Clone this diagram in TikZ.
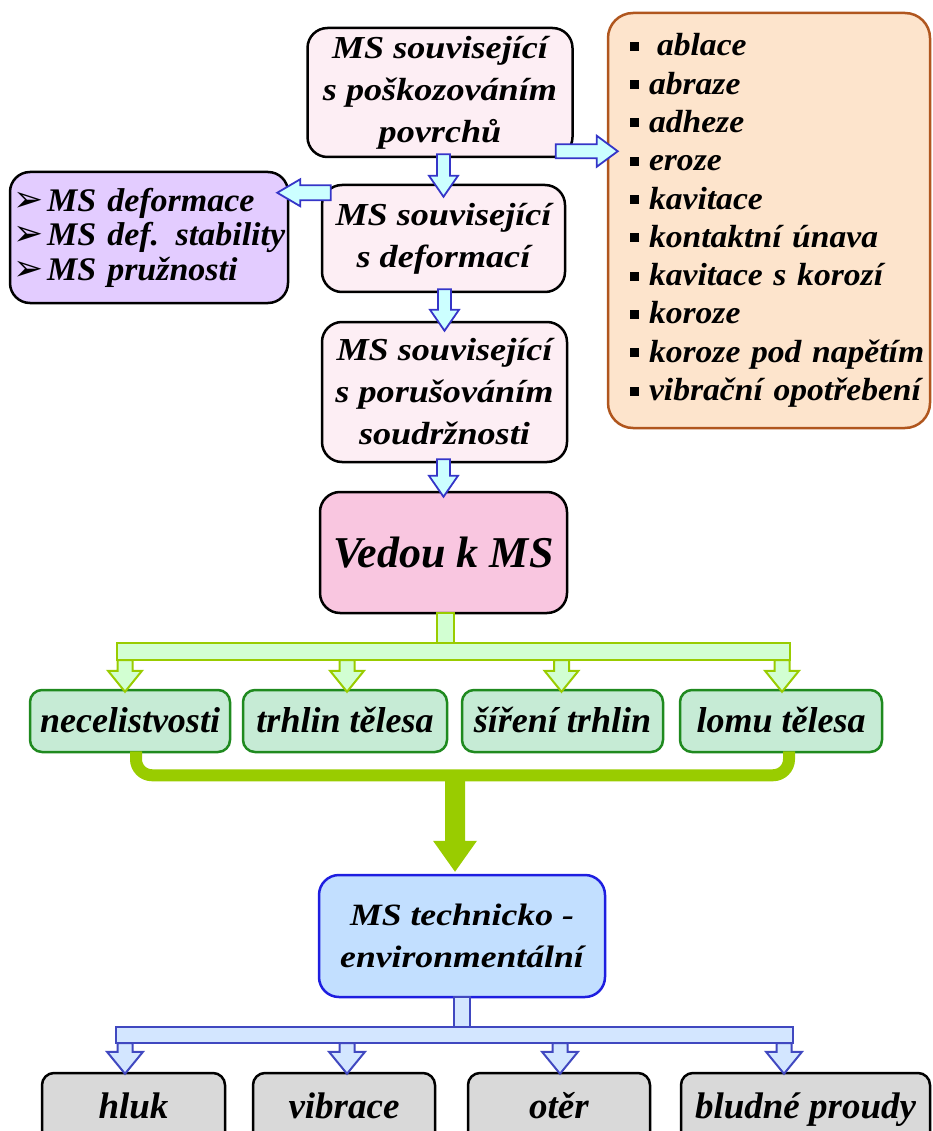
\documentclass[tikz,border=0pt]{standalone}
\usepackage{fontspec}
\setmainfont{Liberation Serif}
\newfontfamily\fTop{Liberation Serif}[FakeStretch=1.13]
\newfontfamily\fSide{Liberation Serif}[FakeStretch=1.03]
\newfontfamily\fList{Liberation Serif}[FakeStretch=1.05]
\newfontfamily\fEnv{Liberation Serif}[FakeStretch=1.15]
\newfontfamily\arrowglyph{DejaVu Sans}
\usetikzlibrary{calc}

\definecolor{palepink}{HTML}{FDEEF4}
\definecolor{hotpink}{HTML}{F9C6E0}
\definecolor{lilac}{HTML}{E3CCFF}
\definecolor{peach}{HTML}{FDE4CC}
\definecolor{rust}{HTML}{B0561E}
\definecolor{mint}{HTML}{C6EBD5}
\definecolor{leaf}{HTML}{1F8A1F}
\definecolor{sky}{HTML}{C2DFFF}
\definecolor{royal}{HTML}{1E1EE0}
\definecolor{ash}{HTML}{D9D9D9}
\definecolor{cyanfill}{HTML}{CCFFFF}
\definecolor{arrowblue}{HTML}{3535C8}
\definecolor{limefill}{HTML}{D2FFD2}
\definecolor{lime}{HTML}{99CC00}
\definecolor{icefill}{HTML}{D3E6FF}
\definecolor{navyline}{HTML}{4048C0}

% vertical block arrow: style, start, tip, half shaft, half head, head length
\newcommand\vblock[6]{%
  \path[#1] let \p1=(#2), \p2=(#3) in
    (\x2-#4,\y1) -- (\x2-#4,\y2+#6) -- (\x2-#5,\y2+#6) -- (\x2,\y2)
    -- (\x2+#5,\y2+#6) -- (\x2+#4,\y2+#6) -- (\x2+#4,\y1) -- cycle;}
% rightward block arrow: style, start, tip, half shaft, half head, head length
\newcommand\rblock[6]{%
  \path[#1] let \p1=(#2), \p2=(#3) in
    (\x1,\y2-#4) -- (\x2-#6,\y2-#4) -- (\x2-#6,\y2-#5) -- (\x2,\y2)
    -- (\x2-#6,\y2+#5) -- (\x2-#6,\y2+#4) -- (\x1,\y2+#4) -- cycle;}
% leftward block arrow: style, start, tip, half shaft, half head, head length
\newcommand\lblock[6]{%
  \path[#1] let \p1=(#2), \p2=(#3) in
    (\x1,\y2-#4) -- (\x2+#6,\y2-#4) -- (\x2+#6,\y2-#5) -- (\x2,\y2)
    -- (\x2+#6,\y2+#5) -- (\x2+#6,\y2+#4) -- (\x1,\y2+#4) -- cycle;}

\newcommand\sqmark{\hspace*{22pt}\rule[5pt]{9pt}{9pt}\hspace{10pt}}
\newcommand\tipmark{\hspace*{3pt}{\arrowglyph\fontsize{36}{34.5}\selectfont\mdseries\upshape ➢}\hspace{4pt}}

\begin{document}
\begin{tikzpicture}[x=1pt,y=-1pt,
  stage/.style={draw=black, line width=2.5pt, rounded corners=20pt, align=center,
    inner sep=0pt, fill=palepink, font=\fTop\fontsize{32}{42}\selectfont\bfseries\itshape},
  panel/.style={draw=black, line width=2.5pt, rounded corners=20pt, inner sep=0pt, align=left},
  crackbox/.style={draw=leaf, fill=mint, line width=2.5pt, rounded corners=12pt,
    minimum height=62pt, inner sep=0pt, text height=26pt, text depth=4pt,
    font=\fontsize{36}{40}\selectfont\bfseries\itshape},
  effect/.style={draw=black, fill=ash, line width=2.5pt, rounded corners=12pt,
    minimum height=72pt, inner sep=0pt, text height=25pt, text depth=7pt,
    font=\fontsize{37}{40}\selectfont\bfseries\itshape},
  cyanarrow/.style={fill=cyanfill, draw=arrowblue, line width=1.8pt, line join=miter},
  limetree/.style={fill=limefill, draw=lime, line width=2pt},
  icetree/.style={fill=icefill, draw=navyline, line width=2pt},
]
\useasboundingbox (0,0) rectangle (933,1131);

% main chain
\node[stage, minimum width=265pt, minimum height=129pt] (surf) at (440,92.5)
  {MS související\\s poškozováním\\povrchů};
\node[stage, minimum width=243pt, minimum height=107pt] (deform) at (443.5,238.5)
  {MS související\\s deformací};
\node[stage, minimum width=245pt, minimum height=140pt] (cohes) at (444.5,392)
  {MS související\\s porušováním\\soudržnosti};
\node[stage, fill=hotpink, minimum width=247pt, minimum height=121pt,
  font=\fontsize{44}{50}\selectfont\bfseries\itshape] (lead) at (443.5,552.5) {Vedou k MS};

% side panels
\node[panel, fill=lilac, minimum width=278pt, minimum height=131pt, text width=278pt,
  font=\fSide\fontsize{33}{34.5}\selectfont\bfseries\itshape] (defkinds) at (149,237.5)
  {\tipmark MS deformace\\\tipmark MS def. stability\\\tipmark MS pružnosti};
\node[panel, draw=rust, fill=peach, rounded corners=25pt, minimum width=322pt,
  minimum height=415pt, text width=322pt,
  font=\fList\fontsize{32}{38.3}\selectfont\bfseries\itshape] (wear) at (769,220.5)
  {\sqmark\hspace{8pt}ablace\\\sqmark abraze\\\sqmark adheze\\\sqmark eroze\\
   \sqmark kavitace\\\sqmark kontaktní únava\\\sqmark kavitace s korozí\\
   \sqmark koroze\\\sqmark koroze pod napětím\\\sqmark vibrační opotřebení};

% failure forms
\node[crackbox, minimum width=200pt] (disc) at (130,721) {necelistvosti};
\node[crackbox, minimum width=204pt] (crack) at (345,721) {trhlin tělesa};
\node[crackbox, minimum width=201pt] (growth) at (562.5,721) {šíření trhlin};
\node[crackbox, minimum width=202pt] (fract) at (781,721) {lomu tělesa};

% technical-environmental level
\node[draw=royal, fill=sky, line width=2.5pt, rounded corners=20pt, minimum width=286pt,
  minimum height=122pt, align=center, inner sep=0pt,
  font=\fEnv\fontsize{31}{42}\selectfont\bfseries\itshape] (env) at (462,936)
  {MS technicko -\\environmentální};

\node[effect, minimum width=183pt] (noise) at (133.5,1109) {hluk};
\node[effect, minimum width=182pt] (vib) at (344,1109) {vibrace};
\node[effect, minimum width=182pt] (abr) at (559,1109) {otěr};
\node[effect, minimum width=249pt] (stray) at (805.5,1109) {bludné proudy};

% cyan arrows of the main chain
\vblock{cyanarrow}{[yshift=4pt]surf.south}{[yshift=-13pt]deform.north}{6.5pt}{14.5pt}{21pt}
\vblock{cyanarrow}{[yshift=4pt]deform.south}{[yshift=-10pt]cohes.north}{6.5pt}{14.5pt}{21pt}
\vblock{cyanarrow}{[yshift=4pt]cohes.south}{[yshift=-6pt]lead.north}{6.5pt}{14.5pt}{21pt}
\rblock{cyanarrow}{$(surf.south east)+(-18,-7)$}{$(wear.west |- surf.south east)+(11,-7)$}{7pt}{15.5pt}{21pt}
\lblock{cyanarrow}{$(deform.north west)+(10,9)$}{$(defkinds.east |- deform.north west)+(-12,9)$}{7.5pt}{13.5pt}{23pt}

% green distribution to the failure forms
\coordinate (gsplit) at (445.5,651.5);
\path[limetree] let \p1=([xshift=-5pt]disc.north), \p2=([xshift=1pt]fract.north), \p3=(gsplit)
  in (\x1-8pt,\y3+8.5pt) rectangle (\x2+8pt,\y3-8.5pt);
\path[limetree] let \p1=(lead.south), \p3=(gsplit)
  in (\x3-8.5pt,\y1+1pt) rectangle (\x3+8.5pt,\y3+8.5pt);
\vblock{limetree}{$(gsplit)+(0,8.5)$}{[xshift=-5pt,yshift=-3pt]disc.north}{7.5pt}{17pt}{21pt}
\vblock{limetree}{$(gsplit)+(0,8.5)$}{[xshift=2pt,yshift=-3pt]crack.north}{7.5pt}{17pt}{21pt}
\vblock{limetree}{$(gsplit)+(0,8.5)$}{[xshift=-1pt,yshift=-3pt]growth.north}{7.5pt}{17pt}{21pt}
\vblock{limetree}{$(gsplit)+(0,8.5)$}{[xshift=1pt,yshift=-3pt]fract.north}{7.5pt}{17pt}{21pt}

% green collector into the technical-environmental level
\draw[lime, line width=12pt, rounded corners=16pt]
  ([xshift=6pt,yshift=2pt]disc.south) |- ($(fract.south)+(8,22)$) -- ([xshift=8pt,yshift=2pt]fract.south);
\coordinate (gjoin) at (455,770);
\vblock{fill=lime}{gjoin}{$(env.north -| gjoin)+(0,-2)$}{10pt}{22pt}{31pt}

% blue distribution to the effects
\coordinate (bsplit) at (461.5,1035);
\path[icetree] let \p1=([xshift=-8.5pt]noise.north), \p2=([xshift=-21.5pt]stray.north), \p3=(bsplit)
  in (\x1-9pt,\y3+8pt) rectangle (\x2+9pt,\y3-8pt);
\path[icetree] let \p1=(env.south), \p3=(bsplit)
  in (\x3-8pt,\y1+1pt) rectangle (\x3+8pt,\y3+8pt);
\vblock{icetree}{$(bsplit)+(0,8)$}{[xshift=-8.5pt,yshift=-2pt]noise.north}{7.5pt}{18pt}{22pt}
\vblock{icetree}{$(bsplit)+(0,8)$}{[xshift=3pt,yshift=-2pt]vib.north}{7.5pt}{18pt}{22pt}
\vblock{icetree}{$(bsplit)+(0,8)$}{[xshift=1pt,yshift=-2pt]abr.north}{7.5pt}{18pt}{22pt}
\vblock{icetree}{$(bsplit)+(0,8)$}{[xshift=-21.5pt,yshift=-2pt]stray.north}{7.5pt}{18pt}{22pt}
\end{tikzpicture}
\end{document}
